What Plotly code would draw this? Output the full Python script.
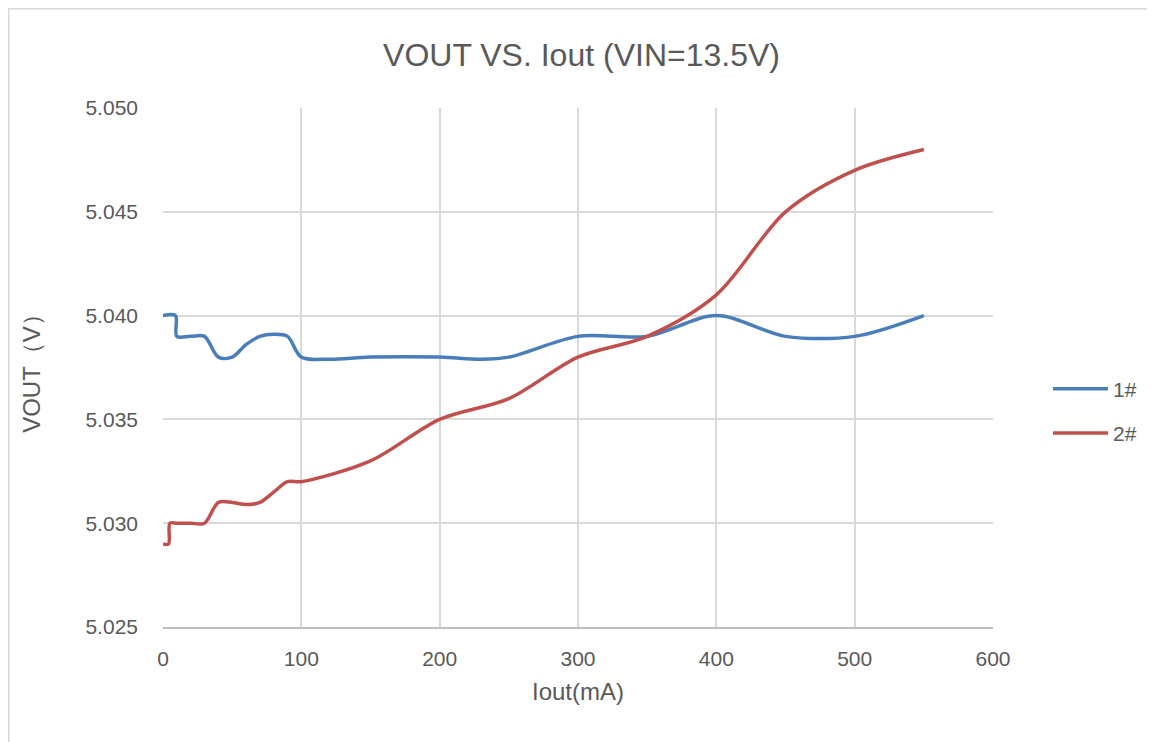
import plotly.graph_objects as go

iout_1 = [0, 9, 10, 20, 30, 40, 50, 60, 70, 80, 90, 100, 120, 150, 200, 230, 250, 300, 350, 400, 450, 500, 550]
vout_1 = [5.0400, 5.0400, 5.0390, 5.0390, 5.0390, 5.0380, 5.0380, 5.0386, 5.0390, 5.0391, 5.0390, 5.0380, 5.0379, 5.0380, 5.0380, 5.0379, 5.0380, 5.0390, 5.0390, 5.0400, 5.0390, 5.0390, 5.0400]

iout_2 = [0, 4, 5, 10, 20, 30, 40, 50, 60, 70, 80, 90, 100, 150, 200, 250, 300, 350, 400, 450, 500, 550]
vout_2 = [5.0290, 5.0290, 5.0300, 5.0300, 5.0300, 5.0300, 5.0310, 5.0310, 5.0309, 5.0310, 5.0315, 5.0320, 5.0320, 5.0330, 5.0350, 5.0360, 5.0380, 5.0390, 5.0410, 5.0450, 5.0470, 5.0480]

x_ticks = [0, 100, 200, 300, 400, 500, 600]
y_ticks = [5.025, 5.030, 5.035, 5.040, 5.045, 5.050]

FONT = "Liberation Sans"
GREY = "#595959"

W, H = 1147, 734
L, R, T, B = 155, 162, 100, 115
PW, PH = W - L - R, H - T - B

fig = go.Figure()
fig.add_trace(go.Scatter(x=iout_1, y=vout_1, name="1#", mode="lines", legendgroup="a",
                         line=dict(color="#4a7ebb", width=3.5, shape="spline", smoothing=0.9)))
fig.add_trace(go.Scatter(x=iout_2, y=vout_2, name="2#", mode="lines", legendgroup="b",
                         line=dict(color="#c0504d", width=3.5, shape="spline", smoothing=0.9)))

fig.update_layout(
    width=W, height=H,
    paper_bgcolor="white", plot_bgcolor="white",
    margin=dict(l=L, r=R, t=T, b=B),
    title=dict(text="VOUT VS. Iout (VIN=13.5V)", x=0.5, xanchor="center",
               y=1 - 47 / H, yanchor="middle",
               font=dict(family=FONT, size=32, color=GREY)),
    font=dict(family=FONT, color=GREY, size=21),
    legend=dict(x=(1048 - 163) / PW, y=(619 - 403) / PH, xanchor="left", yanchor="middle",
                font=dict(family=FONT, size=21, color=GREY),
                itemwidth=55, tracegroupgap=14, bgcolor="rgba(0,0,0,0)"),
    showlegend=True,
)
fig.update_xaxes(range=[0, 600], tickvals=x_ticks, ticktext=[str(v) for v in x_ticks],
                 showgrid=True, gridcolor="#d9d9d9", gridwidth=1.5,
                 zeroline=False, showline=True, linecolor="#bfbfbf", linewidth=1.5,
                 ticks="", ticklabelstandoff=12, tickfont=dict(size=21, color=GREY),
                 title=dict(text="Iout(mA)", font=dict(size=24, color=GREY), standoff=14))
fig.update_yaxes(range=[5.025, 5.050], tickvals=y_ticks, ticktext=[f"{v:.3f}" for v in y_ticks],
                 showgrid=True, gridcolor="#d9d9d9", gridwidth=1.5,
                 zeroline=False, showline=False,
                 ticks="", ticklabelstandoff=24, tickfont=dict(size=21, color=GREY),
                 title=dict(text="VOUT（V）", font=dict(size=24, color=GREY), standoff=38))

# outer chart border
fig.add_shape(type="rect", xref="paper", yref="paper",
              x0=(0.8 - L) / PW, x1=(W + 20 - L) / PW,
              y0=-(B + 20) / PH, y1=(PH + T - 0.8) / PH,
              line=dict(color="#d9d9d9", width=1.5), fillcolor="rgba(0,0,0,0)", layer="below")

fig.write_html("out.html")
